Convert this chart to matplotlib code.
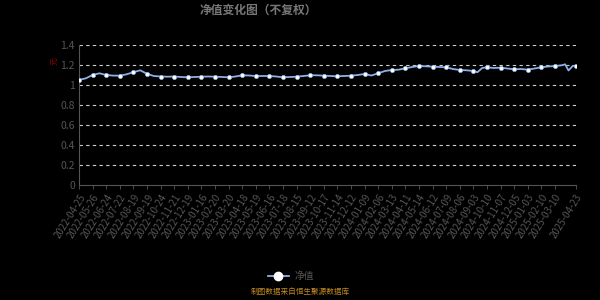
import matplotlib
matplotlib.use("Agg")
import matplotlib.pyplot as plt
import numpy as np

plt.rcParams['font.family'] = ['Noto Sans CJK SC', 'DejaVu Sans']

# tick labels (every 20 trading days, plus the last day)
tick_labels = ['2022-04-25', '2022-05-26', '2022-06-24', '2022-07-22', '2022-08-19',
               '2022-09-19', '2022-10-24', '2022-11-21', '2022-12-19', '2023-01-16',
               '2023-02-20', '2023-03-20', '2023-04-18', '2023-05-19', '2023-06-16',
               '2023-07-18', '2023-08-15', '2023-09-12', '2023-10-17', '2023-11-14',
               '2023-12-12', '2024-01-09', '2024-02-06', '2024-03-13', '2024-04-11',
               '2024-05-14', '2024-06-12', '2024-07-09', '2024-08-06', '2024-09-03',
               '2024-10-10', '2024-11-07', '2024-12-05', '2025-01-03', '2025-02-10',
               '2025-03-10', '2025-04-23']
tick_days = [i * 20 for i in range(36)] + [731]

# net value samples (trading-day index, value)
days = [0, 10, 20, 30, 40, 50, 60, 70, 80, 90,
        100, 110, 120, 130, 140, 150, 160, 170, 180, 190,
        200, 210, 220, 230, 240, 250, 260, 270, 280, 290,
        300, 310, 320, 330, 340, 350, 360, 370, 380, 390,
        400, 410, 420, 430, 440, 450, 460, 470, 480, 490,
        500, 510, 520, 530, 540, 550, 560, 570, 580, 586,
        593, 600, 610, 620, 630, 640, 650, 660, 670, 680,
        690, 700, 710, 715, 720, 726, 731]
nav = [1.050, 1.067, 1.100, 1.117, 1.100, 1.094, 1.093, 1.107, 1.128, 1.147,
       1.112, 1.090, 1.085, 1.083, 1.085, 1.080, 1.077, 1.080, 1.083, 1.085,
       1.083, 1.080, 1.077, 1.085, 1.097, 1.095, 1.090, 1.090, 1.090, 1.085,
       1.077, 1.080, 1.083, 1.090, 1.097, 1.097, 1.093, 1.090, 1.087, 1.090,
       1.093, 1.100, 1.110, 1.095, 1.117, 1.140, 1.150, 1.153, 1.167, 1.180,
       1.190, 1.187, 1.183, 1.180, 1.177, 1.160, 1.150, 1.147, 1.140, 1.128,
       1.170, 1.177, 1.170, 1.173, 1.165, 1.157, 1.160, 1.153, 1.165, 1.177,
       1.185, 1.190, 1.197, 1.207, 1.145, 1.190, 1.193]

fig = plt.figure(figsize=(6, 3), dpi=100, facecolor='black')
ax = fig.add_axes([0.1317, 0.3833, 0.8283, 0.4667], facecolor='black')

line_color = '#8db0e6'
ax.plot(days, nav, color=line_color, lw=1.3, zorder=3)
mark_vals = [nav[days.index(d)] for d in tick_days]
ax.plot(tick_days, mark_vals, ls='none', marker='o', ms=3,
        mfc='white', mec=line_color, mew=0.5, zorder=4)

ax.set_ylim(0, 1.4)
ax.set_yticks(np.arange(0, 1.41, 0.2))
ax.set_yticklabels(['0', '0.2', '0.4', '0.6', '0.8', '1', '1.2', '1.4'])
ax.set_xlim(0, 731)
ax.set_xticks(tick_days)
ax.set_xticklabels(tick_labels, rotation=58, ha='right', rotation_mode='anchor')

for v in np.arange(0.2, 1.41, 0.2):
    ax.axhline(v, color='#d0d0d0', lw=0.8, ls=(0, (3, 3)), zorder=1)

for s in ['top', 'right']:
    ax.spines[s].set_visible(False)
for s in ['left', 'bottom']:
    ax.spines[s].set_color('#555555')
    ax.spines[s].set_linewidth(0.8)

ax.tick_params(axis='y', colors='#555555', labelsize=7.5, length=0, pad=3)
ax.tick_params(axis='x', colors='#555555', labelsize=7, length=3, width=0.6, pad=2)
for lab in ax.get_yticklabels() + ax.get_xticklabels():
    lab.set_color('#555555')

fig.text(0.092, 0.795, '元', color='#8b0000', fontsize=5.5, rotation=90,
         ha='center', va='center')

fig.text(0.43, 0.965, '净值变化图（不复权）', color='#777777', fontsize=8.5,
         fontweight='bold', ha='center', va='center')

# legend
ax.plot([], [], color=line_color, lw=1.3, marker='o', ms=6,
        mfc='white', mec='white', label='净值')
ax.legend(loc='center', bbox_to_anchor=(0.485, 0.08), bbox_transform=fig.transFigure,
          frameon=False, fontsize=7, labelcolor='#555555', handlelength=2.2,
          handletextpad=0.6)

fig.text(0.5, 0.015, '制图数据来自恒生聚源数据库', color='#c08a20', fontsize=5.5,
         ha='center', va='bottom')

fig.savefig('out.png', dpi=100, facecolor='black')
